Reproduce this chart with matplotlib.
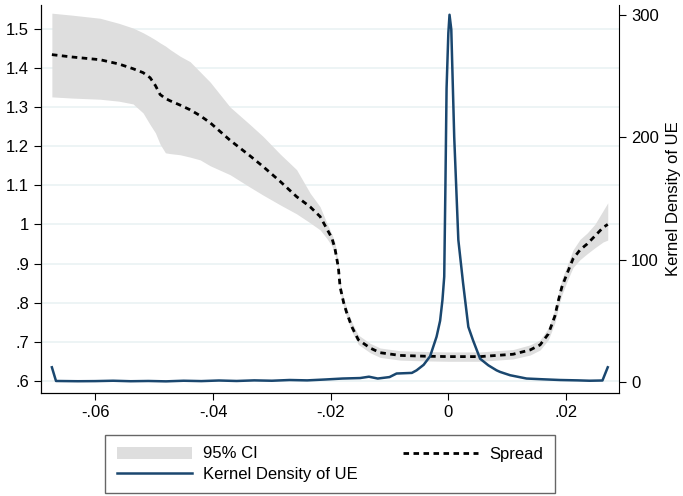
import numpy as np
import matplotlib
matplotlib.use('Agg')
import matplotlib.pyplot as plt
from matplotlib.patches import Patch
from matplotlib.lines import Line2D

plt.rcParams['font.family'] = ['Liberation Sans', 'DejaVu Sans']

# spread and its 95% CI
x_spread = [-0.0674, -0.0640, -0.0592, -0.0560, -0.0536, -0.0519, -0.0507, -0.0498, -0.0490,
            -0.0481, -0.0473, -0.0456, -0.0439, -0.0422, -0.0405, -0.0371, -0.0337, -0.0315,
            -0.0286, -0.0258, -0.0235, -0.0218, -0.0207, -0.0198, -0.0193, -0.0187, -0.0184,
            -0.0178, -0.0173, -0.0164, -0.0153, -0.0133, -0.0116, -0.0082, -0.0040, 0.0,
            0.0054, 0.0110, 0.0139, 0.0156, 0.0170, 0.0181, 0.0187, 0.0193, 0.0202, 0.0212,
            0.0224, 0.0236, 0.0249, 0.0263, 0.0271]
spread = [1.434, 1.428, 1.421, 1.41, 1.398, 1.388, 1.375, 1.355, 1.332,
          1.322, 1.316, 1.305, 1.293, 1.278, 1.26, 1.215, 1.175, 1.148,
          1.11, 1.071, 1.045, 1.02, 0.99, 0.965, 0.94, 0.89, 0.84,
          0.80, 0.775, 0.738, 0.705, 0.684, 0.672, 0.665, 0.663, 0.662,
          0.662, 0.668, 0.679, 0.692, 0.72, 0.765, 0.805, 0.84, 0.875, 0.912,
          0.935, 0.95, 0.97, 0.992, 1.0]
ci_hi = [1.54, 1.535, 1.527, 1.514, 1.502, 1.49, 1.48, 1.472, 1.464,
         1.456, 1.447, 1.43, 1.416, 1.39, 1.364, 1.30, 1.255, 1.225,
         1.18, 1.14, 1.08, 1.045, 1.005, 0.975, 0.955, 0.902, 0.852,
         0.812, 0.787, 0.75, 0.717, 0.696, 0.684, 0.677, 0.675, 0.674,
         0.674, 0.68, 0.692, 0.705, 0.735, 0.782, 0.823, 0.86, 0.895, 0.935,
         0.962, 0.978, 1.0, 1.035, 1.055]
ci_lo = [1.326, 1.323, 1.32, 1.315, 1.308, 1.285, 1.255, 1.234, 1.205,
         1.183, 1.181, 1.178, 1.172, 1.165, 1.15, 1.127, 1.095, 1.075,
         1.05, 1.027, 1.004, 0.986, 0.965, 0.945, 0.925, 0.878, 0.828,
         0.788, 0.763, 0.726, 0.693, 0.672, 0.66, 0.653, 0.651, 0.65,
         0.65, 0.656, 0.666, 0.679, 0.705, 0.748, 0.787, 0.82, 0.855, 0.89,
         0.91, 0.925, 0.94, 0.955, 0.96]

# kernel density of UE
x_kd = [-0.0674, -0.0667, -0.063, -0.060, -0.057, -0.054, -0.051, -0.048, -0.045, -0.042,
        -0.039, -0.036, -0.033, -0.030, -0.027, -0.024, -0.021, -0.018, -0.015, -0.0135,
        -0.012, -0.010, -0.0088, -0.0062, -0.0054, -0.0042, -0.0031, -0.0020, -0.0014,
        -0.0010, -0.0007, -0.0005, -0.0003, 0.0, 0.0002, 0.0005, 0.0010, 0.0017, 0.0025,
        0.0034, 0.0042, 0.0054, 0.0068, 0.0082, 0.0088, 0.0105, 0.0133, 0.016, 0.019,
        0.022, 0.024, 0.0262, 0.0271]
kd = [12, 0.8, 0.6, 0.7, 1.0, 0.6, 0.8, 0.5, 1.0, 0.7,
      1.2, 0.8, 1.3, 1.0, 1.6, 1.3, 2.0, 2.8, 3.2, 4.3,
      2.8, 4.0, 6.9, 7.4, 9.5, 14, 21, 37, 50,
      67, 86, 159, 240, 285, 300, 288, 200, 116, 81,
      45, 34, 19, 13.6, 9.5, 8.2, 5.5, 2.8, 2.2, 1.6,
      1.3, 1.0, 1.2, 12]

yticks = [0.6, 0.7, 0.8, 0.9, 1.0, 1.1, 1.2, 1.3, 1.4, 1.5]
ylabels = ['.6', '.7', '.8', '.9', '1', '1.1', '1.2', '1.3', '1.4', '1.5']
xticks = [-0.06, -0.04, -0.02, 0.0, 0.02]
xlabels = ['-.06', '-.04', '-.02', '0', '.02']

navy = '#1a476f'
band = '#dedede'
fs = 12

fig = plt.figure(figsize=(6.83, 4.96), dpi=100)
ax = fig.add_axes([0.0596, 0.2077, 0.8471, 0.7823])

ax.fill_between(x_spread, ci_lo, ci_hi, color=band, lw=0, zorder=1)
ax.plot(x_spread, spread, color='black', lw=2, linestyle=(0, (2, 1.6)), zorder=3)
ax.set_xlim(-0.0693, 0.02906)
ax.set_ylim(0.569, 1.561)
ax.set_yticks(yticks)
ax.set_yticklabels(ylabels)
ax.set_xticks(xticks)
ax.set_xticklabels(xlabels)
for y in yticks:
    ax.axhline(y, color='#eaf2f3', lw=1.2, zorder=0)
ax.spines['top'].set_visible(False)
ax.spines['right'].set_visible(False)
ax.tick_params(labelsize=fs, length=5, width=0.8, direction='out', colors='black')

ax2 = ax.twinx()
ax2.plot(x_kd, kd, color=navy, lw=1.8, zorder=4)
ax2.set_ylim(-9, 308)
ax2.set_yticks([0, 100, 200, 300])
ax2.spines['top'].set_visible(False)
ax2.tick_params(labelsize=fs, length=5, width=0.8)
ax2.set_ylabel('Kernel Density of UE', fontsize=fs, labelpad=5)

handles = [Patch(facecolor=band, edgecolor='none'),
           Line2D([], [], color=navy, lw=1.8),
           Line2D([], [], color='black', lw=2, linestyle=(0, (2, 1.6)))]
labels = ['95% CI', 'Kernel Density of UE', 'Spread']
leg = fig.legend(handles, labels, ncol=2, loc='center',
                 bbox_to_anchor=(105 / 683, 1 / 496, 450 / 683, 62 / 496),
                 mode='expand', fontsize=fs, handlelength=4.5, handletextpad=0.7,
                 labelspacing=0.3, borderaxespad=0, fancybox=False, frameon=True,
                 edgecolor='#404040', borderpad=0.7)
leg.get_frame().set_linewidth(1.0)

fig.savefig('out.png', dpi=100)
